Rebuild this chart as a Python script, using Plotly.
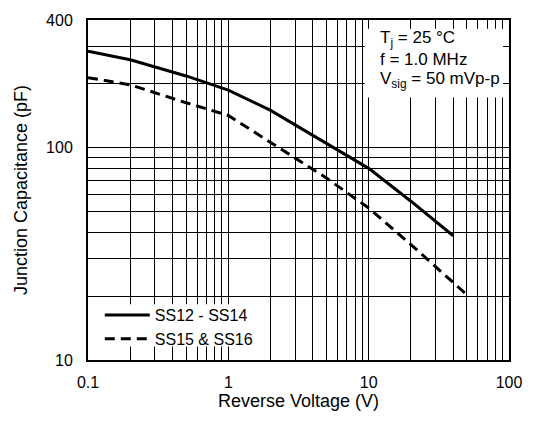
import plotly.graph_objects as go

# Data
v_ss12 = [0.1, 0.2, 0.5, 1, 2, 3, 5, 10, 20, 40]
c_ss12 = [285, 260, 218, 187, 150, 128, 104, 80, 56, 38.5]
v_ss15 = [0.1, 0.2, 0.5, 1, 2, 5, 10, 20, 50]
c_ss15 = [214, 198, 163, 142, 106, 72, 52, 35, 20.3]

x_ticks = [0.1, 1, 10, 100]
x_ticklabels = ["0.1", "1", "10", "100"]
y_ticks = [10, 100, 400]
y_ticklabels = ["10", "100", "400"]
x_minor = [m * d for d in (0.1, 1, 10) for m in range(2, 10)]
y_minor = [20, 30, 40, 50, 60, 70, 80, 90, 200, 300]

conditions = ["T<sub>j</sub> = 25 °C", "f = 1.0 MHz", "V<sub>sig</sub> = 50 mVp-p"]

FONT = "Liberation Sans, Arial, Helvetica, sans-serif"

fig = go.Figure()
fig.add_trace(go.Scatter(x=v_ss12, y=c_ss12, mode="lines", name="SS12 - SS14",
                         line=dict(color="black", width=3)))
fig.add_trace(go.Scatter(x=v_ss15, y=c_ss15, mode="lines", name="SS15 & SS16",
                         line=dict(color="black", width=3, dash="10px,6px")))

axis_common = dict(showline=True, linecolor="black", linewidth=2, mirror=True,
                   showgrid=True, gridcolor="black", gridwidth=1, zeroline=False,
                   ticks="", tickfont=dict(size=16, color="black", family=FONT))

fig.update_xaxes(type="log", range=[-1, 2], tickvals=x_ticks, ticktext=x_ticklabels,
                 minor=dict(tickvals=x_minor, showgrid=True, gridcolor="black", gridwidth=1),
                 ticklabelstandoff=7,
                 title=dict(text="Reverse Voltage (V)", font=dict(size=18, color="black", family=FONT), standoff=3),
                 **axis_common)
fig.update_yaxes(type="log", range=[1, 2.60206], tickvals=y_ticks, ticktext=y_ticklabels,
                 minor=dict(tickvals=y_minor, showgrid=True, gridcolor="black", gridwidth=1),
                 ticklabelstandoff=10,
                 title=dict(text="Junction Capacitance (pF)", font=dict(size=18, color="black", family=FONT), standoff=14),
                 **axis_common)

# white boxes behind the legend and the conditions text
fig.add_shape(type="rect", xref="paper", yref="paper", x0=0.003, x1=0.4155, y0=0.040, y1=0.164,
              fillcolor="white", line=dict(width=0), layer="above")
fig.add_shape(type="rect", xref="paper", yref="paper", x0=0.657, x1=0.986, y0=0.772, y1=0.974,
              fillcolor="white", line=dict(width=0), layer="above")

for txt, yy in zip(conditions, [0.943, 0.883, 0.824]):
    fig.add_annotation(xref="paper", yref="paper", x=0.688, y=yy, xanchor="left", yanchor="middle",
                       align="left", showarrow=False, text=txt,
                       font=dict(size=17, color="black", family=FONT))

fig.update_layout(
    width=534, height=424,
    margin=dict(l=88, r=20, t=13, b=64),
    paper_bgcolor="white", plot_bgcolor="white",
    font=dict(family=FONT, size=16, color="black"),
    legend=dict(x=0.028, y=0.182, xanchor="left", yanchor="top", bgcolor="rgba(0,0,0,0)",
                itemwidth=45, tracegroupgap=0,
                font=dict(size=16, color="black", family=FONT)),
    showlegend=True,
)

fig.write_html("out.html")
